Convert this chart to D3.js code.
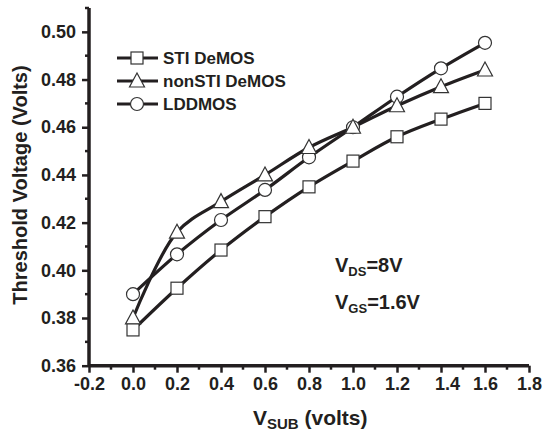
<!DOCTYPE html>
<html><head><meta charset="utf-8">
<script src="https://cdn.jsdelivr.net/npm/d3@7"></script>
<style>
body{margin:0;background:#fff;}
text{font-family:"Liberation Sans",Arial,sans-serif;font-weight:bold;fill:#231f20;}
</style></head>
<body><svg id="c" width="542" height="434"></svg>
<script>
const vsub = [0.0, 0.2, 0.4, 0.6, 0.8, 1.0, 1.2, 1.4, 1.6];
const stiDeMOS    = [0.375, 0.3925, 0.4085, 0.4225, 0.435, 0.4458, 0.456, 0.4634, 0.470];
const nonStiDeMOS = [0.380, 0.416, 0.4288, 0.440, 0.4515, 0.460, 0.469, 0.477, 0.484];
const lddmos      = [0.390, 0.4067, 0.4211, 0.4337, 0.4474, 0.460, 0.4728, 0.4847, 0.4954];
const seriesNames = ["STI DeMOS", "nonSTI DeMOS", "LDDMOS"];
const xTicks = [-0.2, 0.0, 0.2, 0.4, 0.6, 0.8, 1.0, 1.2, 1.4, 1.6, 1.8];
const yTicks = [0.36, 0.38, 0.40, 0.42, 0.44, 0.46, 0.48, 0.50];

const svg = d3.select("#c");
const ink = "#231f20";
const x = d3.scaleLinear().domain([-0.2, 1.8]).range([89, 529]);
const y = d3.scaleLinear().domain([0.36, 0.51]).range([365.7, 8]);
const fmtX = d => d3.format(".1f")(d).replace("\u2212", "-");
const fmtY = d => d3.format(".2f")(d);

const xMinor = d3.range(-0.2, 1.8001, 0.1).filter(v => !xTicks.some(t => Math.abs(t - v) < 1e-6));
const yMinor = d3.range(0.37, 0.5101, 0.02);

const gx = svg.append("g").attr("transform", "translate(0,365.7)");
gx.call(d3.axisBottom(x).tickValues(xTicks).tickSize(7).tickPadding(5).tickFormat(fmtX));
gx.selectAll("g.mt").data(xMinor).enter().append("line")
  .attr("x1", d => x(d)).attr("x2", d => x(d)).attr("y1", 0).attr("y2", 4)
  .attr("stroke", ink).attr("stroke-width", 2.5);

const gy = svg.append("g").attr("transform", "translate(89,0)");
gy.call(d3.axisLeft(y).tickValues(yTicks).tickSize(7).tickPadding(6).tickFormat(fmtY));
gy.selectAll("g.mt").data(yMinor).enter().append("line")
  .attr("y1", d => y(d)).attr("y2", d => y(d)).attr("x1", 0).attr("x2", -4)
  .attr("stroke", ink).attr("stroke-width", 2.5);

[gx, gy].forEach(g => {
  g.select(".domain").attr("stroke", ink).attr("stroke-width", 3.5);
  g.selectAll(".tick line").attr("stroke", ink).attr("stroke-width", 2.5);
  g.selectAll(".tick text").attr("font-size", 18).attr("font-family", "Liberation Sans, Arial, sans-serif")
    .attr("font-weight", "bold").attr("fill", ink);
});
gx.select(".domain").attr("d", `M${x(-0.2)},0H${x(1.8)}`);
gy.select(".domain").attr("d", `M0,${y(0.51)}V365.7`);
gx.selectAll(".tick text").filter(d => Math.abs(d - 1.4) < 1e-6).attr("dx", 6);

const data = [stiDeMOS, nonStiDeMOS, lddmos];
const line = d3.line().x((d, i) => x(vsub[i])).y(d => y(d)).curve(d3.curveCatmullRom.alpha(0.5));
data.forEach(s => {
  svg.append("path").attr("d", line(s)).attr("fill", "none").attr("stroke", ink).attr("stroke-width", 3.2);
});

function marker(g, type, cx, cy) {
  if (type === 0) g.append("rect").attr("x", cx - 6).attr("y", cy - 6).attr("width", 12).attr("height", 12);
  else if (type === 1) g.append("path").attr("d", `M${cx},${cy - 8}L${cx + 7.5},${cy + 6}L${cx - 7.5},${cy + 6}Z`);
  else g.append("circle").attr("cx", cx).attr("cy", cy).attr("r", 6.5);
}
const mg = svg.append("g").attr("fill", "#fff").attr("stroke", "#333").attr("stroke-width", 1.2);
[2, 1, 0].forEach(k => data[k].forEach((v, i) => marker(mg, k, x(vsub[i]), y(v))));

const legY = [58, 81, 104];
seriesNames.forEach((n, k) => {
  svg.append("line").attr("x1", 117).attr("x2", 158).attr("y1", legY[k]).attr("y2", legY[k])
    .attr("stroke", ink).attr("stroke-width", 3.2);
  const lg = svg.append("g").attr("fill", "#fff").attr("stroke", "#333").attr("stroke-width", 1.2);
  marker(lg, k, 137, legY[k]);
  svg.append("text").attr("x", 163).attr("y", legY[k]).attr("dy", "0.36em").attr("font-size", 17).text(n);
});

const t1 = svg.append("text").attr("x", 335).attr("y", 272).attr("font-size", 20);
t1.append("tspan").text("V");
t1.append("tspan").attr("font-size", 13).attr("dy", 4).text("DS");
t1.append("tspan").attr("dy", -4).text("=8V");
const t2 = svg.append("text").attr("x", 335).attr("y", 309).attr("font-size", 20);
t2.append("tspan").text("V");
t2.append("tspan").attr("font-size", 13).attr("dy", 4).text("GS");
t2.append("tspan").attr("dy", -4).text("=1.6V");

const xt = svg.append("text").attr("x", 253).attr("y", 425).attr("font-size", 21);
xt.append("tspan").text("V");
xt.append("tspan").attr("font-size", 15).attr("dy", 4).text("SUB");
xt.append("tspan").attr("dy", -4).text(" (volts)");
svg.append("text").attr("transform", "translate(27,185) rotate(-90)").attr("text-anchor", "middle")
  .attr("font-size", 20).text("Threshold Voltage (Volts)");
</script></body></html>
